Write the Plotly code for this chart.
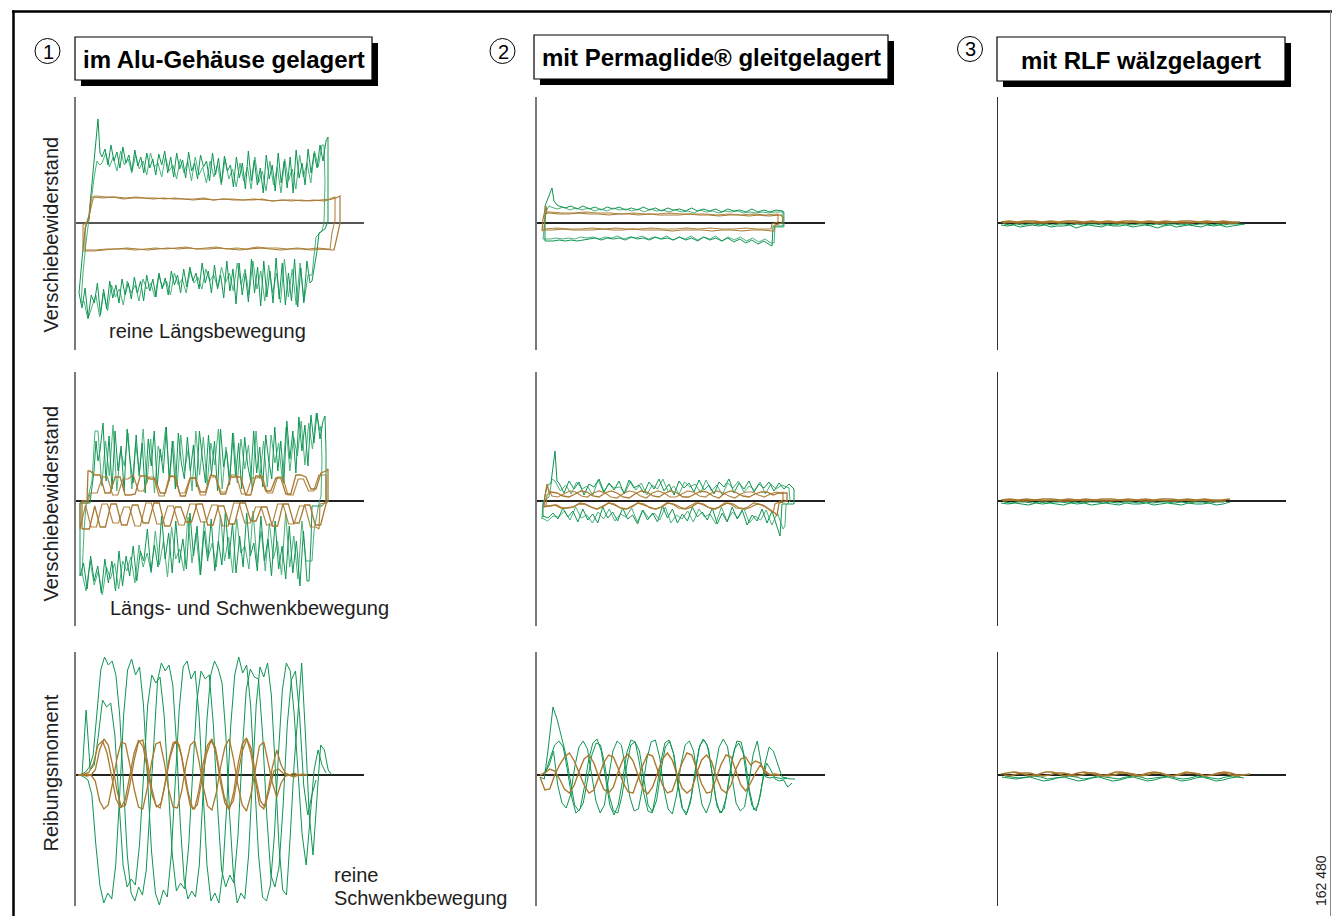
import numpy as np
import plotly.graph_objects as go

# ---------------- DATA (offsets: x = distance along stroke, y = force / moment) -------------
# Panel (row 1, col 1): im Alu-Gehäuse, reine Längsbewegung
R1C1_G1_LEFT = [(3, -70), (5, -45), (8, -15), (10, -2), (13, 8), (16, 40), (19, 75), (22, 104), (24, 70)]
R1C1_G1_TOP_X = (26, 250)
R1C1_G1_TOP = [66, 74, 58, 78, 62, 71, 55, 76, 60, 68, 52, 73, 57, 66, 50, 70, 55, 64, 48, 69, 58, 72, 50, 66, 46,
               70, 54, 63, 45, 71, 52, 60, 44, 68, 56, 62, 42, 70, 48, 65, 40, 67, 52, 58, 36, 66, 45, 60, 34, 72,
               42, 63, 38, 55, 30, 68, 44, 58, 32, 70, 40, 62, 35, 66, 30, 73, 45, 60, 38, 74, 50, 70, 55, 78, 62, 82]
R1C1_G1_RIGHT = [(252, 86), (252, 45), (252, 2), (249, -6), (243, -10), (241, -28), (238, -45), (236, -58)]
R1C1_G1_BOT_X = (234, 6)
R1C1_G1_BOT = [-60, -38, -80, -45, -84, -36, -78, -50, -82, -40, -76, -35, -80, -48, -74, -38, -83, -44, -70, -36,
               -79, -50, -72, -40, -81, -46, -68, -38, -75, -52, -66, -42, -70, -48, -60, -40, -66, -50, -58, -44,
               -64, -46, -70, -52, -62, -48, -72, -55, -66, -50, -74, -56, -68, -52, -78, -58, -70, -54, -76, -60,
               -72, -56, -80, -62, -75, -58, -86, -66, -92, -60, -80, -72, -95, -65, -85]
R1C1_G2_LEFT = [(5, -80), (7, -50), (10, -20), (12, -4), (15, 15), (18, 45), (21, 62), (24, 58)]
R1C1_G2_TOP_X = (26, 246)
R1C1_G2_TOP = [60, 70, 56, 66, 52, 72, 58, 64, 50, 68, 54, 62, 48, 70, 56, 60, 46, 66, 52, 58, 44, 64, 50, 62, 42,
               66, 48, 56, 40, 62, 46, 58, 38, 64, 44, 54, 36, 60, 42, 56, 34, 66, 40, 52, 32, 62, 38, 56, 30, 64,
               42, 54, 34, 68, 46, 60, 40, 72, 56, 78]
R1C1_G2_RIGHT = [(248, 78), (249, 40), (248, 0), (246, -8), (240, -14), (238, -35), (236, -52)]
R1C1_G2_BOT_X = (232, 8)
R1C1_G2_BOT = [-52, -78, -40, -82, -46, -74, -36, -80, -50, -70, -42, -78, -48, -66, -38, -72, -46, -62, -40, -68,
               -50, -60, -44, -64, -52, -58, -46, -66, -54, -60, -48, -70, -56, -62, -50, -72, -58, -64, -52, -74,
               -60, -66, -56, -78, -62, -70, -58, -82, -66, -74, -62, -88, -70, -94, -72, -84, -96, -78]
R1C1_B1_LEFT = [(9, -27), (9, -5), (11, 0), (13, 4), (15, 26)]
R1C1_B1_TOP_X = (17, 258)
R1C1_B1_TOP = [26, 25, 26, 24, 25, 25, 24, 25, 24, 24, 23, 24, 23, 24, 23, 23, 24, 23, 22, 23, 23, 22, 23, 22, 24]
R1C1_B1_RIGHT = [(260, 25), (264, 27), (264, 0), (261, -14), (258, -27)]
R1C1_B1_BOT_X = (256, 10)
R1C1_B1_BOT = [-27, -26, -27, -26, -26, -27, -26, -25, -26, -27, -26, -25, -26, -26, -25, -26, -25, -26, -27, -26,
               -25, -26, -26, -27, -27]
R1C1_B2_LEFT = [(7, -28), (7, -2), (12, 2), (17, 24), (19, 27)]
R1C1_B2_TOP_X = (21, 254)
R1C1_B2_TOP = [27, 26, 26, 25, 26, 25, 25, 24, 25, 24, 24, 25, 23, 24, 24, 23, 23, 24, 22, 23, 22, 23, 22, 23, 24]
R1C1_B2_RIGHT = [(256, 25), (259, 26), (259, 3), (256, -10), (254, -26)]
R1C1_B2_BOT_X = (252, 8)
R1C1_B2_BOT = [-26, -25, -26, -25, -26, -25, -25, -24, -26, -25, -26, -24, -25, -26, -24, -25, -26, -25, -26, -27,
               -26, -26, -27, -28, -28]

# Panel (row 2, col 1): im Alu-Gehäuse, Längs- und Schwenkbewegung
R2C1_G1_LEFT = [(4, -60), (4, -20), (4, -2), (14, -2), (18, 30), (20, 60), (22, 40)]
R2C1_G1_TOP_X = (24, 247)
R2C1_G1_TOP = [50, 78, 20, 65, 12, 70, 30, 55, 10, 72, 40, 18, 66, 25, 58, 8, 62, 35, 70, 15, 52, 28, 74, 20, 60,
               12, 68, 38, 22, 64, 30, 56, 14, 70, 42, 18, 66, 26, 60, 10, 72, 34, 50, 16, 68, 24, 58, 12, 64, 36,
               20, 70, 28, 54, 14, 66, 40, 22, 74, 30, 60, 18, 80, 42, 70, 28, 84, 50, 76, 35, 86, 58, 88, 62, 80]
R2C1_G1_RIGHT = [(249, 85), (250, 50), (250, 0), (246, -5), (236, -5), (235, -40), (233, -80)]
R2C1_G1_BOT_X = (231, 4)
R2C1_G1_BOT = [-80, -30, -85, -40, -72, -25, -78, -45, -68, -20, -75, -38, -60, -15, -70, -42, -55, -12, -66, -35,
               -72, -22, -58, -10, -64, -40, -70, -18, -60, -30, -74, -25, -55, -12, -68, -38, -62, -20, -72, -32,
               -58, -15, -66, -44, -70, -28, -60, -50, -80, -45, -75, -55, -85, -50, -90, -60, -82, -58, -92, -65,
               -80, -55, -88, -62, -75]
R2C1_G2_LEFT = [(6, -75), (8, -30), (10, -5), (16, 20), (19, 70)]
R2C1_G2_TOP_X = (22, 244)
R2C1_G2_TOP = [70, 15, 60, 25, 76, 10, 50, 35, 68, 12, 58, 28, 72, 18, 62, 8, 55, 40, 74, 22, 60, 14, 66, 30, 52,
               10, 70, 26, 64, 16, 58, 36, 72, 12, 54, 24, 68, 18, 62, 32, 56, 10, 70, 22, 60, 14, 66, 38, 58, 20,
               74, 30, 64, 45, 80, 36, 78, 52, 88, 70]
R2C1_G2_RIGHT = [(245, 75), (246, 40), (245, 5), (243, -2), (240, -20), (238, -30), (236, -60)]
R2C1_G2_BOT_X = (230, 6)
R2C1_G2_BOT = [-60, -20, -78, -35, -66, -12, -74, -40, -58, -22, -70, -30, -62, -10, -68, -45, -52, -18, -72, -36,
               -60, -14, -66, -42, -56, -20, -74, -32, -62, -16, -70, -48, -58, -26, -76, -40, -64, -30, -72, -52,
               -66, -44, -82, -56, -70, -60, -88, -62, -78, -66, -94, -70, -84, -60, -90, -72]
R2C1_B1_LEFT = [(6, -28), (6, 0), (11, 0), (12, 30)]
R2C1_B1_TOP_X = (14, 250)
R2C1_B1_TOP = [30, 26, 26, 8, 8, 24, 24, 6, 6, 7, 25, 25, 22, 22, 8, 8, 25, 24, 5, 5, 23, 23, 9, 9, 26, 25, 7, 7,
               24, 24, 24, 6, 6, 25, 25, 10, 10, 23, 23, 7, 7, 26, 26, 24, 12, 12, 28, 30]
R2C1_B1_RIGHT = [(252, 32), (252, 0)]
R2C1_B1_BOT_X = (250, 8)
R2C1_B1_BOT = [-3, -24, -24, -4, -4, -22, -22, -3, -3, -25, -25, -6, -6, -20, -20, -2, -2, -23, -23, -5, -5, -24,
               -24, -3, -3, -21, -21, -6, -6, -25, -25, -2, -2, -22, -22, -4, -4, -24, -24, -3, -3, -26, -26, -5,
               -28, -28]
R2C1_B2_LEFT = [(4, -28), (4, -2), (12, -2), (14, 8)]
R2C1_B2_TOP_X = (16, 248)
R2C1_B2_TOP = [8, 8, 24, 24, 6, 6, 22, 22, 26, 10, 10, 24, 24, 5, 5, 25, 25, 8, 8, 23, 23, 6, 6, 24, 24, 9, 9, 26,
               26, 7, 7, 23, 23, 25, 8, 8, 24, 24, 6, 6, 22, 22, 10, 10, 26, 26]
R2C1_B2_RIGHT = [(250, 26), (250, -2), (244, -3), (243, -28)]
R2C1_B2_BOT_X = (240, 4)
R2C1_B2_BOT = [-26, -26, -5, -5, -23, -23, -3, -3, -24, -24, -6, -6, -22, -22, -2, -2, -25, -25, -4, -4, -21, -21,
               -3, -3, -24, -24, -5, -5, -23, -23, -2, -2, -25, -25, -6, -6, -22, -22, -3, -3, -26, -26, -4, -28]

# Panel (row 3, col 1): im Alu-Gehäuse, reine Schwenkbewegung (Reibungsmoment)
R3C1_G_X = [(2, 256), (4, 250), (6, 240)]
R3C1_G1 = [0, 1, 3, 8, 20, 60, 105, 118, 110, 114, 100, 60, -10, -80, -118, -126, -112, -120, -95, -30, 40, 95, 112,
           104, 110, 90, 30, -50, -105, -124, -116, -122, -90, -20, 55, 100, 114, 106, 92, 40, -40, -100, -128, -118,
           -124, -80, 0, 70, 108, 98, 112, 80, 10, -70, -115, -120, -60, 10, 60, 112, 40, -40, -80, -20, 30, 25, 5, 0]
R3C1_G2 = [0, -2, -5, -20, -70, -110, -128, -118, -124, -90, -20, 60, 105, 116, 100, 108, 70, 0, -75, -118, -130,
           -115, -122, -80, -10, 65, 108, 114, 96, 104, 60, -15, -90, -126, -118, -128, -96, -30, 50, 100, 118, 102,
           110, 70, -5, -80, -122, -126, -110, -60, 20, 85, 112, 104, 60, 0, -60, -90, -40, 5, 25, 10, 2]
R3C1_G3 = [0, 65, 5, 10, 40, 75, 68, 72, 40, -30, -90, -112, -104, -110, -70, 0, 70, 100, 92, 98, 60, -10, -80, -116,
           -108, -114, -70, 5, 75, 104, 96, 100, 50, -30, -95, -112, -100, -108, -60, 20, 85, 106, 98, 96, 40, -40,
           -100, -112, -92, -30, 50, 95, 104, 60, -10, -40, -20, -5]
R3C1_B_X = [(2, 231), (2, 231), (4, 225)]
R3C1_B1 = [0, 0, 1, 0, 5, 25, 36, 30, 10, -15, -32, -30, -10, 15, 33, 35, 15, -12, -30, -33, -12, 14, 32, 34, 18,
           -10, -31, -34, -15, 12, 30, 36, 20, -8, -28, -35, -18, 10, 31, 37, 22, -5, -30, -34, -16, 8, 25, 10, 2, 0,
           -2, 0, 1, 0]
R3C1_B2 = [0, 0, -1, 0, -6, -26, -34, -30, -8, 16, 33, 31, 10, -14, -32, -34, -14, 12, 31, 33, 12, -15, -32, -33,
           -16, 10, 30, 34, 14, -12, -31, -35, -18, 8, 28, 36, 16, -10, -30, -36, -20, 6, 29, 33, 14, -8, -22, -8, -1,
           0, 2, 0, 0, 0]
R3C1_B3 = [0, 1, 3, 12, 30, 34, 22, 0, -24, -33, -25, -2, 22, 35, 28, 4, -20, -32, -28, -6, 18, 33, 30, 8, -18, -34,
           -30, -6, 20, 34, 28, 2, -22, -33, -26, 0, 24, 36, 26, -4, -26, -32, -14, 4, 6, 2, 0, -1, 0, 0]

# Panel (row 1, col 2): Permaglide, reine Längsbewegung
R1C2_G1_LEFT = [(8, -18), (8, 0), (8, 17), (15, 35), (17, 22), (20, 18)]
R1C2_G1_TOP_X = (22, 245)
R1C2_G1_TOP = [17, 15, 17, 14, 17, 14, 16, 13, 16, 14, 16, 13, 15, 13, 16, 13, 15, 12, 15, 13, 14, 12, 15, 12, 14,
               12, 14, 11, 14, 12, 13, 11, 14, 11, 13, 11, 13, 12]
R1C2_G1_RIGHT = [(246, 12), (246, -3), (236, -3), (235, -23)]
R1C2_G1_BOT_X = (233, 10)
R1C2_G1_BOT = [-22, -18, -21, -17, -20, -16, -19, -15, -18, -15, -17, -14, -18, -15, -17, -14, -17, -15, -16, -14,
               -17, -15, -16, -14, -17, -15, -16, -15, -17, -15, -16, -17, -18, -17, -18, -17, -18, -18]
R1C2_G2_LEFT = [(6, -16), (7, -5), (9, 12), (12, 17)]
R1C2_G2_TOP_X = (14, 244)
R1C2_G2_TOP = [16, 14, 16, 13, 15, 13, 15, 12, 14, 12, 15, 13, 14, 12, 14, 11, 14, 12, 13, 11, 13, 11, 12, 10, 13,
               11, 12, 10, 12, 11, 12, 10, 11, 10, 11, 10, 11, 11]
R1C2_G2_RIGHT = [(247, 11), (247, -4), (238, -4), (237, -20)]
R1C2_G2_BOT_X = (234, 7)
R1C2_G2_BOT = [-20, -16, -19, -15, -18, -14, -17, -14, -18, -13, -16, -14, -17, -13, -16, -14, -17, -13, -16, -14,
               -16, -13, -15, -14, -16, -13, -15, -14, -16, -14, -15, -14, -16, -15, -16, -15, -16, -16]
R1C2_B1_LEFT = [(5, -8), (6, 4), (9, 17), (10, 10)]
R1C2_B1_TOP_X = (12, 242)
R1C2_B1_TOP = [10, 9, 9, 10, 9, 9, 8, 9, 9, 8, 9, 8, 8, 8, 9, 8, 8, 7, 8, 8, 7, 8, 7, 8]
R1C2_B1_RIGHT = [(244, 8), (246, 5), (245, 0), (238, -2), (237, -8)]
R1C2_B1_BOT_X = (235, 6)
R1C2_B1_BOT = [-8, -7, -7, -8, -7, -7, -8, -7, -7, -7, -8, -7, -7, -7, -6, -7, -7, -6, -7, -7, -7, -6, -7, -7]
R1C2_B2_LEFT = [(7, -6), (8, 8), (11, 11)]
R1C2_B2_TOP_X = (13, 240)
R1C2_B2_TOP = [11, 10, 10, 11, 10, 10, 9, 10, 9, 9, 10, 9, 9, 9, 8, 9, 8, 9, 8, 9]
R1C2_B2_RIGHT = [(241, 9), (241, 1), (235, -1), (234, -6)]
R1C2_B2_BOT_X = (232, 8)
R1C2_B2_BOT = [-6, -6, -5, -6, -6, -5, -6, -5, -6, -6, -5, -6, -6, -5, -6, -5, -6, -6, -5, -6]

# Panel (row 2, col 2): Permaglide, Längs- und Schwenkbewegung
R2C2_G1_LEFT = [(6, -16), (6, -5), (10, 15), (14, 18), (18, 50), (20, 20)]
R2C2_G1_TOP_X = (22, 257)
R2C2_G1_TOP = [18, 8, 20, 12, 19, 6, 17, 14, 22, 9, 18, 11, 20, 7, 21, 13, 16, 8, 19, 12, 22, 10, 17, 6, 20, 13, 18,
               9, 21, 11, 16, 7, 19, 14, 22, 8, 18, 12, 20, 9, 17, 13, 19, 10, 18, 12, 17, 12]
R2C2_G1_RIGHT = [(257, 12), (257, -3), (245, -3), (243, -35)]
R2C2_G1_BOT_X = (240, 6)
R2C2_G1_BOT = [-25, -10, -22, -8, -20, -14, -24, -9, -18, -6, -21, -12, -23, -7, -19, -11, -16, -6, -20, -13, -22,
               -8, -17, -5, -21, -12, -19, -9, -23, -14, -18, -7, -20, -11, -17, -6, -22, -13, -19, -8, -21, -10, -16,
               -7, -18, -12, -17, -15]
R2C2_G2_LEFT = [(5, -18), (6, 0), (12, 4), (15, 22)]
R2C2_G2_TOP_X = (18, 250)
R2C2_G2_TOP = [20, 10, 16, 7, 19, 12, 15, 6, 21, 9, 17, 13, 14, 8, 20, 11, 18, 6, 16, 12, 22, 9, 15, 7, 19, 14, 17,
               8, 21, 10, 16, 6, 18, 13, 20, 9, 15, 11, 19, 7, 17, 12, 16, 14]
R2C2_G2_RIGHT = [(252, 13), (253, 0), (249, -4), (248, -25)]
R2C2_G2_BOT_X = (246, 5)
R2C2_G2_BOT = [-28, -12, -24, -9, -19, -15, -22, -7, -17, -11, -20, -6, -23, -13, -16, -8, -21, -10, -18, -14, -22,
               -6, -19, -12, -17, -9, -21, -7, -16, -13, -20, -8, -18, -11, -22, -14, -17, -6, -19, -10, -16, -15, -20,
               -17]
R2C2_B1_LEFT = [(7, -6), (8, 5), (10, 17), (12, 9)]
R2C2_B1_TOP_X = (14, 248)
R2C2_B1_TOP = [9, 8, 5, 4, 7, 10, 9, 5, 4, 8, 10, 8, 4, 3, 7, 10, 9, 5, 4, 8, 10, 8, 4, 4, 7, 10, 9, 5, 3, 8, 10, 8,
               5, 4, 7, 9, 9, 6, 8, 8]
R2C2_B1_RIGHT = [(250, 8), (250, 0), (242, -2), (240, -15)]
R2C2_B1_BOT_X = (238, 6)
R2C2_B1_BOT = [-12, -8, -4, -3, -6, -8, -7, -3, -2, -5, -8, -7, -3, -2, -6, -8, -6, -3, -2, -6, -8, -7, -3, -2, -5,
               -8, -7, -4, -2, -6, -8, -6, -3, -3, -6, -7, -7, -4, -5, -6]
R2C2_B2_LEFT = [(9, -5), (10, 6), (13, 9)]
R2C2_B2_TOP_X = (15, 245)
R2C2_B2_TOP = [5, 4, 7, 10, 9, 5, 4, 8, 10, 8, 4, 3, 7, 10, 9, 5, 3, 8, 10, 8, 4, 4, 7, 10, 9, 5, 4, 8, 10, 8, 5, 3,
               7, 9, 9, 6, 4, 7, 9, 8]
R2C2_B2_RIGHT = [(246, 9), (246, 1), (238, -3), (236, -12)]
R2C2_B2_BOT_X = (234, 8)
R2C2_B2_BOT = [-10, -6, -3, -2, -6, -8, -7, -3, -2, -6, -8, -6, -3, -2, -5, -8, -7, -3, -2, -6, -8, -6, -4, -2, -6,
               -8, -7, -3, -2, -5, -8, -6, -3, -2, -6, -7, -7, -4, -5, -5]

# Panel (row 3, col 2): Permaglide, reine Schwenkbewegung
R3C2_G_X = [(3, 258), (5, 255), (8, 250)]
R3C2_G1 = [-2, -4, 30, 68, 55, 38, 20, -5, -30, -36, -28, -5, 20, 32, 30, 10, -20, -36, -38, -20, 8, 30, 33, 24, -5,
           -30, -37, -25, 5, 28, 34, 20, -10, -34, -38, -22, 6, 30, 35, 26, -4, -32, -38, -24, 4, 26, 32, 22, -8, -30,
           -36, -20, 10, 28, 24, 12, -2, -3, -4, -4]
R3C2_G2 = [0, 5, 18, 30, 34, 28, 5, -22, -38, -34, -12, 15, 32, 36, 24, -4, -30, -40, -30, -6, 22, 35, 33, 12, -18,
           -36, -38, -16, 12, 32, 35, 22, -8, -32, -40, -28, 0, 26, 36, 30, 6, -24, -38, -34, -10, 18, 34, 33, 14,
           -16, -35, -30, -8, 12, 5, -4, -6, -5, -12, -8]
R3C2_G3 = [2, 10, 24, -10, -28, -33, -20, 8, 28, 34, 26, 0, -26, -38, -30, -2, 24, 34, 30, 6, -22, -36, -34, -12, 16,
           33, 35, 18, -14, -34, -39, -20, 10, 30, 34, 24, -6, -30, -38, -26, 4, 28, 36, 28, 0, -28, -36, -32, -8,
           20, 34, 10, -2, -3, -2, -3, -4, -3]
R3C2_B_X = [(3, 243), (3, 243)]
R3C2_B1 = [-2, -15, -14, 0, 10, 18, 22, 14, 2, -10, -18, -15, -2, 12, 20, 18, 6, -8, -17, -18, -4, 10, 21, 19, 5,
           -10, -18, -16, -2, 12, 22, 20, 6, -9, -18, -17, -3, 11, 20, 18, 4, -10, -16, -8, 2, 10, 4, 0, 1, 0]
R3C2_B2 = [0, 2, 6, 4, -4, -14, -18, -10, 4, 16, 20, 12, -2, -14, -18, -12, 4, 16, 21, 14, 0, -14, -19, -12, 2, 16,
           22, 15, 0, -13, -18, -14, 2, 15, 20, 14, -2, -14, -18, -10, 6, 16, 18, 10, 14, 12, 2, 0, 0, 0]

# Column 3: RLF wälzgelagert (very small forces)
R1C3_B_X = [(3, 242), (5, 240)]
R1C3_B1 = [1, 2, 1, 2, 2, 1, 2, 1, 2, 2, 1, 2, 1, 2, 1, 2, 2, 1, 2, 1, 2, 1, 2, 2, 1, 2, 1, 2, 1, 1]
R1C3_B2 = [0, 1, 0, 1, 0, 0, 1, 0, 1, 0, 0, 1, 0, 1, 0, 0, 1, 0, 1, 0, 0, 1, 0, 0, 1, 0, 1, 0, 0, 0]
R1C3_G_X = [(3, 247), (6, 244)]
R1C3_G1 = [-2, -3, -2, -4, -3, -2, -3, -2, -4, -3, -3, -2, -5, -3, -2, -3, -4, -2, -3, -3, -2, -4, -3, -2, -3, -5,
           -3, -2, -4, -3, -2, -3, -4, -2, -3, -2, -4, -3, -2, -1]
R1C3_G2 = [-1, -2, -1, -2, -1, -1, -2, -1, -2, -1, -1, -2, -1, -2, -1, -1, -2, -1, -2, -1, -1, -2, -1, -1, -2, -1,
           -2, -1, -1, -2, -1, -2, -1, -1, -2, -1, -2, -1, -1, -1]
R2C3_B_X = [(3, 232), (5, 228)]
R2C3_B1 = [1, 2, 1, 2, 1, 2, 2, 1, 2, 1, 2, 1, 2, 2, 1, 2, 1, 2, 1, 2, 2, 1, 2, 1, 2, 1, 1, 2]
R2C3_B2 = [0, 1, 0, 0, 1, 0, 1, 0, 0, 1, 0, 1, 0, 0, 1, 0, 1, 0, 0, 1, 0, 0, 1, 0, 1, 0, 0, 0]
R2C3_G_X = [(3, 232), (6, 226)]
R2C3_G1 = [-2, -3, -2, -3, -4, -2, -3, -2, -3, -4, -2, -3, -2, -4, -3, -2, -3, -4, -2, -3, -3, -2, -4, -3, -2, -3,
           -4, -2, -3, -3, -2, -4, -3, -1]
R2C3_G2 = [-1, -2, -1, -1, -2, -1, -2, -1, -1, -2, -1, -2, -1, -1, -2, -1, -2, -1, -1, -2, -1, -2, -1, -1, -2, -1,
           -2, -1, -1, -2, -1, -1]
R3C3_B_X = [(3, 252), (6, 246)]
R3C3_B1 = [1, 2, 3, 2, 0, -1, 1, 3, 3, 1, -1, 0, 2, 3, 2, 0, -1, 1, 3, 3, 1, -1, 0, 2, 3, 2, 0, -1, 1, 3, 2, 1, -1,
           0, 2, 3, 2, 0, 0, 1]
R3C3_B2 = [0, -1, 1, 2, 2, 0, -1, 0, 2, 2, 1, -1, 0, 2, 2, 0, -1, 0, 2, 2, 1, -1, 0, 2, 2, 0, -1, 0, 2, 2, 1, -1,
           0, 1, 2, 0, -1, 0]
R3C3_G_X = [(4, 246), (7, 242)]
R3C3_G1 = [-2, -3, -4, -3, -2, -4, -6, -5, -3, -2, -4, -6, -5, -3, -2, -4, -6, -5, -3, -2, -4, -6, -5, -3, -2, -4,
           -6, -5, -3, -2, -4, -6, -5, -3, -2, -3]
R3C3_G2 = [-1, -2, -3, -2, -1, -2, -4, -3, -2, -1, -2, -4, -3, -1, -2, -3, -4, -2, -1, -2, -4, -3, -2, -1, -3, -4,
           -3, -1, -2, -3, -4, -2, -1, -2]

TITLES = ["im Alu-Gehäuse gelagert", "mit Permaglide® gleitgelagert", "mit RLF wälzgelagert"]
NUMBERS = ["1", "2", "3"]
ROW_LABELS = ["Verschiebewiderstand", "Verschiebewiderstand", "Reibungsmoment"]
MOTION_LABELS = ["reine Längsbewegung", "Längs- und Schwenkbewegung", "reine", "Schwenkbewegung"]
FIG_NUMBER = "162 480"

# ---------------- LAYOUT CONSTANTS (pixels) ----------------
W, H = 1332, 916
AXIS_X = [76, 537, 998]                     # vertical axis per column
ROWS = [(97, 223, 350), (372, 501, 626), (652, 775, 906)]   # top, zero, bottom per row
PANEL_W = 288
GREEN = "#0e9552"
GREEN2 = "#2aa566"
BROWN = "#a87a30"
INK = "#1e1e1e"


def px(x):
    return x / W


def py(y):
    return 1 - y / H


def band(xr, vals):
    return list(np.linspace(xr[0], xr[1], len(vals))), list(vals)


def loop(left, top_x, top, right, bot_x, bot):
    xs, ys = [p[0] for p in left], [p[1] for p in left]
    tx, ty = band(top_x, top)
    xs += tx
    ys += ty
    xs += [p[0] for p in right]
    ys += [p[1] for p in right]
    bx, by = band(bot_x, bot)
    xs += bx
    ys += by
    xs.append(left[0][0])
    ys.append(left[0][1])
    return xs, ys


fig = go.Figure()


def add(panel, xs, ys, color, width=1.0, opacity=1.0):
    fig.add_trace(go.Scatter(x=xs, y=ys, mode="lines", xaxis="x%d" % panel, yaxis="y%d" % panel,
                             line=dict(color=color, width=width), opacity=opacity, hoverinfo="skip"))


def addloop(panel, pref, color, width=1.0, opacity=1.0):
    g = globals()
    xs, ys = loop(g[pref + "_LEFT"], g[pref + "_TOP_X"], g[pref + "_TOP"], g[pref + "_RIGHT"],
                  g[pref + "_BOT_X"], g[pref + "_BOT"])
    add(panel, xs, ys, color, width, opacity)


# panel numbers: row r, col c -> r*3 + c + 1
addloop(1, "R1C1_G2", GREEN2, 1.0, 0.85)
addloop(1, "R1C1_G1", GREEN, 1.0)
addloop(1, "R1C1_B2", BROWN, 1.1, 0.9)
addloop(1, "R1C1_B1", BROWN, 1.2)
addloop(4, "R2C1_G2", GREEN2, 1.0, 0.85)
addloop(4, "R2C1_G1", GREEN, 1.0)
addloop(4, "R2C1_B2", BROWN, 1.2, 0.9)
addloop(4, "R2C1_B1", BROWN, 1.3)
for xr, vals in zip(R3C1_G_X, [R3C1_G1, R3C1_G2, R3C1_G3]):
    add(7, *band(xr, vals), GREEN, 1.0)
for xr, vals in zip(R3C1_B_X, [R3C1_B1, R3C1_B2, R3C1_B3]):
    add(7, *band(xr, vals), BROWN, 1.3)
addloop(2, "R1C2_G2", GREEN2, 1.0, 0.85)
addloop(2, "R1C2_G1", GREEN, 1.0)
addloop(2, "R1C2_B2", BROWN, 1.1, 0.9)
addloop(2, "R1C2_B1", BROWN, 1.2)
addloop(5, "R2C2_G2", GREEN2, 1.0, 0.85)
addloop(5, "R2C2_G1", GREEN, 1.0)
addloop(5, "R2C2_B2", BROWN, 1.2, 0.9)
addloop(5, "R2C2_B1", BROWN, 1.3)
for xr, vals in zip(R3C2_G_X, [R3C2_G1, R3C2_G2, R3C2_G3]):
    add(8, *band(xr, vals), GREEN, 1.0)
for xr, vals in zip(R3C2_B_X, [R3C2_B1, R3C2_B2]):
    add(8, *band(xr, vals), BROWN, 1.4)
for panel, gx, gv, bx, bv in [
    (3, R1C3_G_X, [R1C3_G1, R1C3_G2], R1C3_B_X, [R1C3_B1, R1C3_B2]),
    (6, R2C3_G_X, [R2C3_G1, R2C3_G2], R2C3_B_X, [R2C3_B1, R2C3_B2]),
    (9, R3C3_G_X, [R3C3_G1, R3C3_G2], R3C3_B_X, [R3C3_B1, R3C3_B2]),
]:
    for xr, vals in zip(gx, gv):
        add(panel, *band(xr, vals), GREEN, 1.0)
    for xr, vals in zip(bx, bv):
        add(panel, *band(xr, vals), BROWN, 1.6)

layout = dict(width=W, height=H, margin=dict(l=0, r=0, t=0, b=0), paper_bgcolor="white",
              plot_bgcolor="rgba(0,0,0,0)", showlegend=False)
for r, (top, zero, bottom) in enumerate(ROWS):
    for c, ax in enumerate(AXIS_X):
        n = r * 3 + c + 1
        layout["xaxis%d" % n] = dict(domain=[px(ax), px(ax + PANEL_W)], range=[0, PANEL_W], visible=False,
                                     fixedrange=True)
        layout["yaxis%d" % n] = dict(
            domain=[py(bottom), py(top)], range=[-(bottom - zero), zero - top], anchor="x%d" % n,
            showline=True, linecolor="#7a7a7a" if c < 2 else "#333333", linewidth=2 if c < 2 else 1,
            showgrid=False, showticklabels=False, ticks="",
            zeroline=True, zerolinecolor="#555555" if (r == 0 and c == 0) else "#222222",
            zerolinewidth=1.5, fixedrange=True)
fig.update_layout(**layout)

shapes = []
shapes.append(dict(type="line", xref="paper", yref="paper", x0=px(12), x1=px(1332), y0=py(11.5), y1=py(11.5),
                   line=dict(color="black", width=2.5)))
shapes.append(dict(type="line", xref="paper", yref="paper", x0=px(13.5), x1=px(13.5), y0=py(10.5), y1=py(916),
                   line=dict(color="black", width=2.5)))
shapes.append(dict(type="line", xref="paper", yref="paper", x0=px(1330.5), x1=px(1330.5), y0=py(11), y1=py(916),
                   line=dict(color="#8a8a8a", width=1)))

BOXES = [(75, 37, 372, 80), (534, 35, 888, 79), (997, 37, 1285, 81)]
CIRCLES = [(47.5, 51), (502.5, 51), (970, 49)]
for (x0, y0, x1, y1), (cx, cy), title, num in zip(BOXES, CIRCLES, TITLES, NUMBERS):
    shapes.append(dict(type="rect", xref="paper", yref="paper", x0=px(x0 + 6), x1=px(x1 + 6), y0=py(y0 + 6),
                       y1=py(y1 + 6), line=dict(width=0), fillcolor="black"))
    shapes.append(dict(type="rect", xref="paper", yref="paper", x0=px(x0), x1=px(x1), y0=py(y0), y1=py(y1),
                       line=dict(color="black", width=1.2), fillcolor="white"))
    shapes.append(dict(type="circle", xref="paper", yref="paper", x0=px(cx - 12.5), x1=px(cx + 12.5),
                       y0=py(cy - 12.5), y1=py(cy + 12.5), line=dict(color="black", width=1)))
    fig.add_annotation(x=px((x0 + x1) / 2), y=py((y0 + y1) / 2 + 1), xref="paper", yref="paper",
                       text="<b>%s</b>" % title, showarrow=False,
                       font=dict(family="Liberation Sans, Arial", size=24, color="black"),
                       xanchor="center", yanchor="middle")
    fig.add_annotation(x=px(cx + 0.5), y=py(cy + 0.5), xref="paper", yref="paper", text=num, showarrow=False,
                       font=dict(family="Liberation Sans, Arial", size=20, color="black"),
                       xanchor="center", yanchor="middle")
fig.update_layout(shapes=shapes)

LABEL_FONT = dict(family="Liberation Sans, Arial", size=20, color=INK)
for (cy, text) in zip([235, 504, 773], ROW_LABELS):
    fig.add_annotation(x=px(50.5), y=py(cy), xref="paper", yref="paper", text=text, textangle=-90,
                       showarrow=False, font=LABEL_FONT, xanchor="center", yanchor="middle")

MOTION_POS = [(107, 331), (108, 608), (332, 875), (332, 898)]
for (x, y), text in zip(MOTION_POS, MOTION_LABELS):
    fig.add_annotation(x=px(x), y=py(y), xref="paper", yref="paper", text=text, showarrow=False,
                       font=LABEL_FONT, xanchor="left", yanchor="middle")

fig.add_annotation(x=px(1321), y=py(881), xref="paper", yref="paper", text=FIG_NUMBER, textangle=-90,
                   showarrow=False, font=dict(family="Liberation Sans, Arial", size=14, color=INK),
                   xanchor="center", yanchor="middle")

fig.write_html("out.html", config={"displayModeBar": False},
               post_script="document.body.style.margin='0px';document.body.style.padding='0px';")
